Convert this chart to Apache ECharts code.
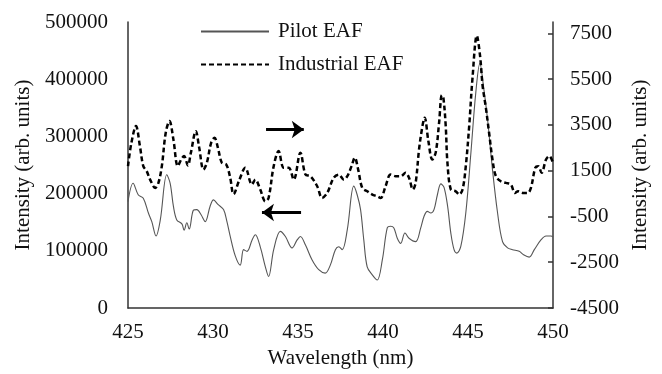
<!DOCTYPE html>
<html>
<head>
<meta charset="utf-8">
<script src="https://cdn.jsdelivr.net/npm/echarts@6/dist/echarts.min.js"></script>
<style>
	html, body { margin: 0; padding: 0; background: #fff; }
	#chart { width: 662px; height: 374px; }
</style>
</head>
<body>
<div id="chart"></div>
<script>
"use strict";

// Pilot EAF (left axis)
var pilotWl = [425.0, 425.3, 425.6, 425.9, 426.2, 426.4, 426.65, 426.9, 427.28, 427.48, 427.67, 427.87,
	428.17, 428.3, 428.46, 428.6, 428.85, 429.05, 429.3, 429.54, 429.83, 430.03, 430.29, 430.62, 430.82,
	431.0, 431.3, 431.6, 431.8, 432.0, 432.3, 432.49, 432.78, 433.08, 433.27, 433.57, 433.96, 434.26,
	434.65, 434.95, 435.14, 435.44, 435.83, 436.22, 436.6, 436.9, 437.2, 437.4, 437.6, 437.9, 438.28,
	438.48, 438.68, 438.87, 439.07, 439.37, 439.66, 439.96, 440.25, 440.45, 440.64, 440.84, 441.04,
	441.29, 441.53, 441.92, 442.22, 442.41, 442.61, 442.81, 443.0, 443.2, 443.4, 443.59, 443.8, 443.99,
	444.18, 444.34, 444.58, 444.87, 445.17, 445.46, 445.7, 445.91, 446.15, 446.44, 446.74, 447.03,
	447.33, 447.62, 448.01, 448.27, 448.6, 448.9, 449.29, 449.59, 449.88, 450.0];
var pilotVal = [186000, 218000, 198000, 192000, 166000, 151000, 126000, 154000, 233000, 218000, 178000, 154000,
	147000, 136000, 149000, 138000, 171000, 172000, 163000, 151000, 178000, 189000, 181000, 172000, 151000,
	127000, 92000, 75000, 102000, 99000, 119000, 128000, 107000, 72000, 55000, 102000, 134000, 125000,
	105000, 119000, 125000, 110000, 84000, 67000, 61000, 75000, 102000, 107000, 102000, 137000, 213000,
	198000, 172000, 119000, 72000, 58000, 49000, 84000, 140000, 143000, 140000, 122000, 113000,
	131000, 122000, 116000, 140000, 160000, 169000, 166000, 172000, 198000, 217000, 211000, 178000, 131000,
	102000, 96000, 108000, 166000, 271000, 377000, 428000, 388000, 330000, 242000, 166000, 116000,
	105000, 102000, 99000, 93000, 89000, 102000, 119000, 126000, 126000, 124000];

// Industrial EAF (right axis)
var indWl = [425.0, 425.2, 425.47, 425.7, 425.9, 426.1, 426.3, 426.6, 426.79, 426.99, 427.22, 427.44,
	427.67, 427.93, 428.13, 428.3, 428.52, 428.7, 428.99, 429.19, 429.44, 429.64, 429.89, 430.09, 430.29,
	430.52, 430.78, 431.01, 431.21, 431.55, 431.9, 432.29, 432.49, 432.78, 433.08, 433.27, 433.57, 433.86,
	434.16, 434.45, 434.75, 435.14, 435.44, 435.73, 436.13, 436.42, 436.72, 437.1, 437.4, 437.7, 437.9,
	438.15, 438.34, 438.54, 438.78, 439.07, 439.37, 439.66, 439.86, 440.15, 440.45, 440.74, 441.04,
	441.33, 441.53, 441.76, 441.92, 442.12, 442.32, 442.45, 442.67, 442.9, 443.1, 443.3, 443.46, 443.55,
	443.69, 443.79, 443.99, 444.28, 444.48, 444.68, 444.87, 445.07, 445.26, 445.52, 445.71, 445.86,
	446.05, 446.24, 446.44, 446.64, 446.93, 447.23, 447.52, 447.76, 447.95, 448.21, 448.51, 448.7,
	448.96, 449.13, 449.33, 449.59, 449.78, 450.0];
var indVal = [1700, 2720, 3450, 2580, 1700, 1480, 1110, 750, 970, 1700, 3160, 3670,
	2870, 1700, 1990, 2140, 1730, 2290, 3230, 2500, 1550, 1850, 2720, 2940, 2500,
	1850, 1770, 1200, 480, 1100, 1630, 900, 1110, 680, 160, 310, 1700, 2360,
	1630, 1630, 1110, 2290, 1330, 1260, 820, 310, 530, 1190, 1330, 1110, 1260,
	1700, 2070, 1550, 750, 600, 460, 380, 310, 820, 1330, 1260, 1260,
	1410, 1190, 680, 970, 2430, 3450, 3820, 2790, 1990, 2290, 3600, 4800, 4700,
	3450, 1850, 680, 600, 460, 680, 1700, 3450, 5500, 7400, 6520, 5210,
	4260, 3160, 1990, 1260, 1040, 970, 900, 530, 600, 530, 530, 750,
	1630, 1700, 1410, 1990, 2140, 1850];

var rightTicks = [-4500, -2500, -500, 1500, 3500, 5500, 7500];

// arrows: [fromX, toX, y]
var arrowRight = [433.12, 435.34, 3300];
var arrowLeft = [435.18, 432.88, 167000];

function pairs(xs, ys) {
	var d = [];
	for (var i = 0; i < xs.length; i++) {
		d.push([xs[i], ys[i]]);
	}
	return d;
}

var font = 'Liberation Serif';
var txt = {fontFamily: font, fontSize: 21, color: '#111'};
var axisLine = {show: true, lineStyle: {color: '#333', width: 1.5}};

var chart = echarts.init(document.getElementById('chart'));
var option = {
	animation: false,
	backgroundColor: '#fff',
	textStyle: {fontFamily: font, color: '#111'},
	grid: {left: 128, right: 109, top: 22, bottom: 66},
	legend: {
		orient: 'vertical',
		left: 200,
		top: 21,
		padding: 0,
		itemWidth: 68,
		itemHeight: 14,
		itemGap: 12,
		itemStyle: {opacity: 0},
		textStyle: {fontFamily: font, fontSize: 21, color: '#111', padding: [0, 0, 0, 4]},
		data: ['Pilot EAF', 'Industrial EAF']
	},
	xAxis: {
		type: 'value',
		min: 425,
		max: 450,
		interval: 5,
		name: 'Wavelength (nm)',
		nameLocation: 'middle',
		nameGap: 39,
		nameTextStyle: txt,
		axisLine: axisLine,
		axisTick: {show: false},
		splitLine: {show: false},
		axisLabel: {fontFamily: font, fontSize: 21, color: '#111', margin: 14}
	},
	yAxis: [{
		type: 'value',
		min: 0,
		max: 500000,
		interval: 100000,
		name: 'Intensity (arb. units)',
		nameLocation: 'middle',
		nameGap: 89,
		nameTextStyle: txt,
		axisLine: axisLine,
		axisTick: {show: false},
		splitLine: {show: false},
		axisLabel: {
			fontFamily: font, fontSize: 21, color: '#111', margin: 20,
			formatter: function (v) { return String(v); }
		}
	}, {
		type: 'value',
		position: 'right',
		min: -4500,
		max: 8000,
		name: 'Intensity (arb. units)',
		nameLocation: 'middle',
		nameGap: 77,
		nameTextStyle: txt,
		axisLine: axisLine,
		axisTick: {show: true, inside: true, length: 5, customValues: rightTicks, lineStyle: {color: '#333', width: 1.5}},
		splitLine: {show: false},
		axisLabel: {
			fontFamily: font, fontSize: 21, color: '#111', margin: 17,
			customValues: rightTicks,
			formatter: function (v) { return String(v); }
		}
	}],
	series: [{
		name: 'Pilot EAF',
		type: 'line',
		yAxisIndex: 0,
		data: pairs(pilotWl, pilotVal),
		smooth: 0.35,
		showSymbol: false,
		color: '#555',
		lineStyle: {color: '#555', width: 1.1},
		z: 2,
		markLine: {
			silent: true,
			symbol: ['none', 'arrow'],
			symbolSize: [13, 12],
			label: {show: false},
			lineStyle: {color: '#000', width: 3, type: 'solid'},
			data: [[{coord: [arrowLeft[0], arrowLeft[2]]}, {coord: [arrowLeft[1], arrowLeft[2]]}]]
		}
	}, {
		name: 'Industrial EAF',
		type: 'line',
		yAxisIndex: 1,
		data: pairs(indWl, indVal),
		smooth: 0.35,
		showSymbol: false,
		color: '#000',
		lineStyle: {color: '#000', width: 2.5, type: [5, 3]},
		z: 3,
		markLine: {
			silent: true,
			symbol: ['none', 'arrow'],
			symbolSize: [13, 12],
			label: {show: false},
			lineStyle: {color: '#000', width: 3, type: 'solid'},
			data: [[{coord: [arrowRight[0], arrowRight[2]]}, {coord: [arrowRight[1], arrowRight[2]]}]]
		}
	}]
};
chart.setOption(option);
</script>
</body>
</html>
